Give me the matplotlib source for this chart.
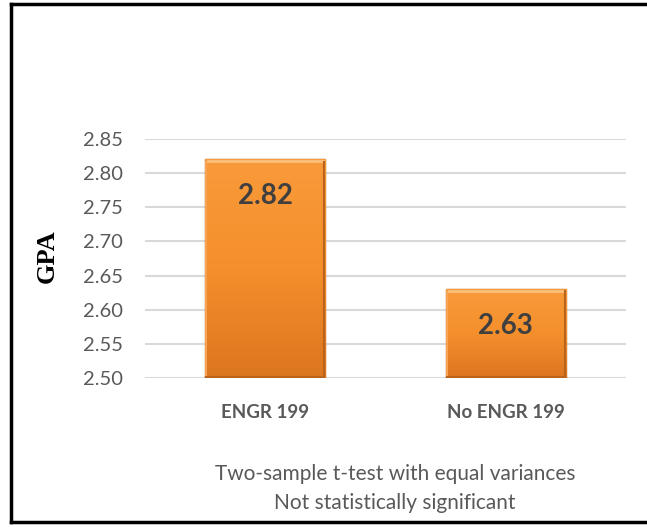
import numpy as np
import matplotlib.pyplot as plt
from matplotlib.colors import LinearSegmentedColormap
from matplotlib.lines import Line2D

# data
groups = ['ENGR 199', 'No ENGR 199']
gpa = [2.82, 2.63]
yticks = [2.50, 2.55, 2.60, 2.65, 2.70, 2.75, 2.80, 2.85]
note_lines = ['Two-sample t-test with equal variances', 'Not statistically significant']

plt.rcParams['font.family'] = ['Lato', 'DejaVu Sans']
gray = '#595959'

fig = plt.figure(figsize=(6.47, 5.27), dpi=100)
ax = fig.add_axes([145 / 647, 1 - 378 / 527, 481 / 647, 239 / 527])

x = np.arange(len(groups))
bars = ax.bar(x, [v - yticks[0] for v in gpa], bottom=yticks[0], width=0.5,
              color='#F28C28', edgecolor='#B5641C', linewidth=1.0, zorder=2)

# vertical orange gradient clipped to each bar (light at top)
cmap = LinearSegmentedColormap.from_list('org', ['#F99A3A', '#F48F2C', '#DC7620'])
grad = np.linspace(0, 1, 256).reshape(-1, 1)
for b in bars:
    x0, y0 = b.get_x(), b.get_y()
    w, h = b.get_width(), b.get_height()
    im = ax.imshow(grad, cmap=cmap, aspect='auto', zorder=3, origin='upper',
                   extent=(x0, x0 + w, y0, y0 + h), interpolation='bicubic')
    im.set_clip_path(b)
    # bevel edges
    ax.plot([x0 + 0.01, x0 + w - 0.01], [y0 + h - 0.002] * 2, color='#FBC07C', lw=2, zorder=4)
    ax.plot([x0 + 0.004] * 2, [y0 + 0.002, y0 + h - 0.003], color='#F6A453', lw=1.5, zorder=4)
    ax.plot([x0 + w - 0.004] * 2, [y0 + 0.002, y0 + h - 0.003], color='#B9631B', lw=1.5, zorder=4)
    ax.plot([x0 + 0.005, x0 + w - 0.005], [y0 + 0.0015] * 2, color='#B9631B', lw=1.5, zorder=4)

for xi, v in zip(x, gpa):
    ax.annotate(f'{v:.2f}', (xi, v), xytext=(0, -37), textcoords='offset pixels',
                ha='center', va='center', fontsize=20, fontweight='bold',
                color='#3F3F3F', zorder=5)

ax.set_xlim(-0.5, 1.5)
ax.set_ylim(yticks[0], yticks[-1])
ax.set_yticks(yticks)
ax.set_yticklabels([f'{t:.2f}' for t in yticks], fontsize=14.5, color=gray)
ax.set_xticks(x)
ax.set_xticklabels(groups, fontsize=13.5, fontweight='bold', color=gray)
ax.tick_params(length=0)
ax.tick_params(axis='y', pad=16)
ax.tick_params(axis='x', pad=19)
ax.grid(axis='y', color='#D9D9D9', lw=1.5, zorder=0)
ax.set_axisbelow(True)
for s in ax.spines.values():
    s.set_visible(False)

fig.text(47 / 647, 1 - 256 / 527, 'GPA', rotation=90, ha='center', va='center',
         fontsize=19, fontweight='bold', family='Liberation Serif', color='black')

for i, line in enumerate(note_lines):
    fig.text(395 / 647, 1 - (474 + 29 * i) / 527, line, ha='center', va='center',
             fontsize=15, color=gray)

# outer frame (open on the right)
frame_kw = dict(color='black', lw=2.5, transform=fig.transFigure)
fig.add_artist(Line2D([11 / 647, 1], [1 - 4 / 527] * 2, **frame_kw))
fig.add_artist(Line2D([11 / 647, 1], [1 - 522 / 527] * 2, **frame_kw))
fig.add_artist(Line2D([11 / 647] * 2, [1 - 4 / 527, 1 - 522 / 527], **frame_kw))

fig.savefig('out.png', dpi=100)
